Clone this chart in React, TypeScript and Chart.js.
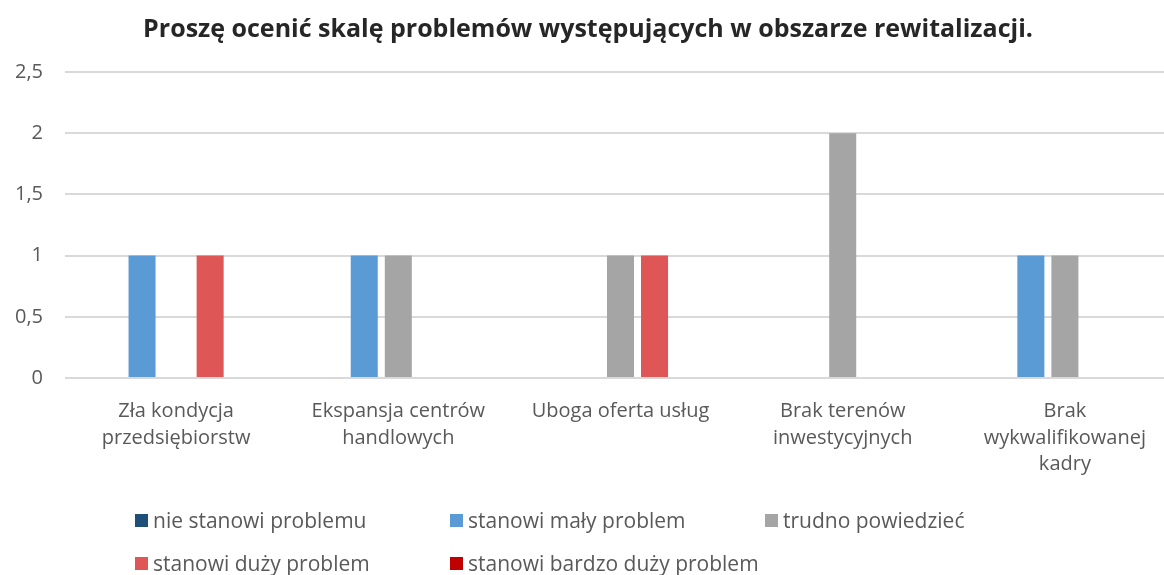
import React, { useEffect, useRef } from "react";
import { Chart, registerables } from "chart.js";

Chart.register(...registerables);

const TITLE = "Proszę ocenić skalę problemów występujących w obszarze rewitalizacji.";

const categories: string[][] = [
  ["Zła kondycja", "przedsiębiorstw"],
  ["Ekspansja centrów", "handlowych"],
  ["Uboga oferta usług"],
  ["Brak terenów", "inwestycyjnych"],
  ["Brak", "wykwalifikowanej", "kadry"],
];

const seriesNames = [
  "nie stanowi problemu",
  "stanowi mały problem",
  "trudno powiedzieć",
  "stanowi duży problem",
  "stanowi bardzo duży problem",
];

const nieStanowi = [0, 0, 0, 0, 0];
const stanowiMaly = [1, 1, 0, 0, 1];
const trudno = [0, 1, 1, 2, 1];
const stanowiDuzy = [1, 0, 1, 0, 0];
const bardzoDuzy = [0, 0, 0, 0, 0];

const seriesValues = [nieStanowi, stanowiMaly, trudno, stanowiDuzy, bardzoDuzy];
const seriesColors = ["#1f4e79", "#5b9bd5", "#a5a5a5", "#df5656", "#c00000"];

const yTicks = [0, 0.5, 1, 1.5, 2, 2.5];

const FONT = "'Open Sans', 'Noto Sans', sans-serif";

export default function App() {
  const ref = useRef<HTMLCanvasElement | null>(null);

  useEffect(() => {
    document.body.style.margin = "0";
    const canvas = ref.current;
    if (!canvas) return;
    const chart = new Chart(canvas, {
      type: "bar",
      data: {
        labels: categories,
        datasets: seriesNames.map((name, i) => ({
          label: name,
          data: seriesValues[i],
          backgroundColor: seriesColors[i],
          borderWidth: 0,
          barPercentage: 0.794,
          categoryPercentage: 0.766,
        })),
      },
      options: {
        animation: false,
        responsive: false,
        maintainAspectRatio: false,
        layout: { padding: { left: 0, right: 4, top: 0, bottom: 77 } },
        plugins: {
          legend: { display: false },
          tooltip: { enabled: false },
          title: {
            display: true,
            text: TITLE,
            color: "#262626",
            font: { family: FONT, size: 25, weight: "bold", lineHeight: 1.2 },
            padding: { top: 15, bottom: 27 },
          },
        },
        scales: {
          x: {
            grid: { display: false },
            border: { display: false },
            ticks: {
              color: "#595959",
              font: { family: FONT, size: 20, lineHeight: 1.33 },
              padding: 12,
              maxRotation: 0,
              autoSkip: false,
            },
            afterFit: (s: any) => {
              s.height = 120;
            },
          },
          y: {
            min: 0,
            max: 2.5,
            afterBuildTicks: (s: any) => {
              s.ticks = yTicks.map((v) => ({ value: v }));
            },
            grid: { color: "#d9d9d9", lineWidth: 2, drawTicks: false },
            border: { display: false },
            ticks: {
              color: "#595959",
              font: { family: FONT, size: 20 },
              padding: 22,
              callback: (v: any) => String(v).replace(".", ","),
            },
            afterFit: (s: any) => {
              s.width = 65;
            },
          },
        },
      },
    });
    return () => chart.destroy();
  }, []);

  return (
    <div style={{ position: "relative", width: 1164, height: 575, overflow: "hidden", background: "#fff" }}>
      <canvas ref={ref} width={1180} height={575} style={{ display: "block" }} />
      <div
        style={{
          position: "absolute",
          left: 135,
          top: 506,
          display: "grid",
          gridTemplateColumns: "315px 315px 315px",
          rowGap: 15,
          fontFamily: FONT,
          fontSize: 21,
          color: "#595959",
          lineHeight: "28px",
        }}
      >
        {seriesNames.map((n, i) => (
          <div key={n} style={{ display: "flex", alignItems: "center", whiteSpace: "nowrap" }}>
            <span style={{ display: "inline-block", width: 13, height: 13, background: seriesColors[i], marginRight: 5 }} />
            <span>{n}</span>
          </div>
        ))}
      </div>
    </div>
  );
}
